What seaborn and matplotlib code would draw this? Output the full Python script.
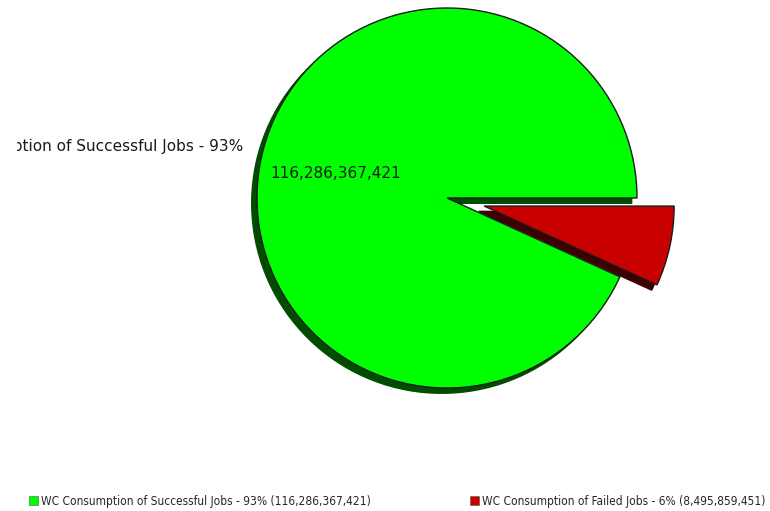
import matplotlib
matplotlib.use("Agg")
import matplotlib.pyplot as plt
from matplotlib.patches import Patch
import seaborn as sns

# Wall-clock consumption split by job outcome
categories = ["WC Consumption of Successful Jobs", "WC Consumption of Failed Jobs"]
consumption = [116286367421, 8495859451]
percent_labels = ["93%", "6%"]
value_labels = ["116,286,367,421", "8,495,859,451"]
slice_colors = ["#00ff00", "#c80000"]
explode = [0.0, 0.2]

sns.set_theme(style="white")
plt.rcParams["font.family"] = ["DejaVu Sans"]

W, H = 770, 511
fig = plt.figure(figsize=(W / 100, H / 100), dpi=100)

# the drawing area starts 17 px in from the left edge; labels are clipped to it
left_px = 17
ax = fig.add_axes([left_px / W, 0, 1 - left_px / W, 1])

outer_labels = [f"{categories[0]} - {percent_labels[0]}", ""]
inner_labels = iter([value_labels[0], ""])

wedges, texts, autotexts = ax.pie(
    consumption,
    labels=outer_labels,
    colors=slice_colors,
    explode=explode,
    startangle=0,
    counterclock=True,
    shadow=dict(ox=-0.02, oy=-0.02, shade=0.7, alpha=1.0),
    autopct=lambda pct: next(inner_labels),
    pctdistance=0.6,
    labeldistance=1.1,
    wedgeprops=dict(edgecolor="#1a1a1a", linewidth=1.0),
    textprops=dict(fontsize=11, color="#1a1a1a"),
)
for t in texts:
    t.set_va("bottom")
    t.set_clip_on(True)

# pie centred at (447, 198) px with a 190 px radius
scale = 190.0
cx, cy = 447.0, 198.0
ax.set_xlim((left_px - cx) / scale, (W - cx) / scale)
ax.set_ylim((cy - H) / scale, cy / scale)
ax.set_axis_off()

handles = [
    Patch(facecolor=c, edgecolor="#555555", linewidth=0.4,
          label=f"{cat} - {p} ({v})")
    for c, cat, p, v in zip(slice_colors, categories, percent_labels, value_labels)
]
fig.legend(
    handles=handles,
    loc="center left",
    bbox_to_anchor=(23 / W, 1 - 501 / H),
    ncol=2,
    frameon=False,
    handlelength=0.75,
    handleheight=0.75,
    handletextpad=0.3,
    columnspacing=8.3,
    borderpad=0,
    prop=dict(family="DejaVu Sans", stretch="condensed", size=8.55),
)

fig.savefig("out.png", dpi=100)
